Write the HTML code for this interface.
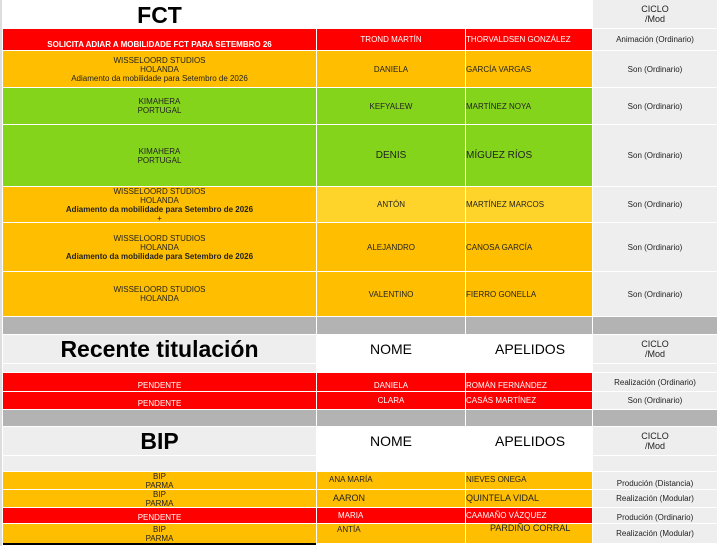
<!DOCTYPE html>
<html><head><meta charset="utf-8"><style>
body{margin:0;width:718px;height:546px;background:#fff;position:relative;overflow:hidden;font-family:"Liberation Sans",sans-serif;}
.c{position:absolute;display:flex;align-items:center;justify-content:center;text-align:center;font-size:8px;line-height:9px;color:#222;box-sizing:border-box;}
.r{background:#ff0000;color:#fff;}
.o{background:#ffbf00;}
.y{background:#ffd42a;}
.g{background:#84d41c;}
.gr{background:#b3b3b3;}
.l{background:#eeeeee;}
.w{background:#fff;}
.L{justify-content:flex-start;}
.b{align-items:flex-end;padding-bottom:1px;}
.big{font-family:"Liberation Sans",sans-serif;font-weight:bold;font-size:23px;line-height:24px;color:#000;}
.h{font-size:14px;color:#000;}
</style></head><body>
<div style="position:absolute;left:0;top:0;width:2px;height:546px;background:#ddd"></div>
<!-- R0 -->
<div class="c w big" style="left:3px;top:0;width:313px;height:29px"><span>FCT</span></div>
<div class="c l" style="left:593px;top:0;width:124px;height:28px;font-size:9px;line-height:10px"><span>CICLO<br>/Mod</span></div>
<!-- R1 -->
<div class="c r b" style="left:3px;top:29px;width:313px;height:21px;font-weight:bold;font-size:8px"><span>SOLICITA ADIAR A MOBILIDADE FCT PARA SETEMBRO 26</span></div>
<div class="c r" style="left:317px;top:29px;width:148px;height:21px">TROND MARTÍN</div>
<div class="c r L" style="left:466px;top:29px;width:126px;height:21px">THORVALDSEN GONZÁLEZ</div>
<div class="c l" style="left:593px;top:29px;width:124px;height:21px">Animación (Ordinario)</div>
<!-- R2 -->
<div class="c o" style="left:3px;top:51px;width:313px;height:36px"><span>WISSELOORD STUDIOS<br>HOLANDA<br>Adiamento da mobilidade para Setembro de 2026</span></div>
<div class="c o" style="left:317px;top:51px;width:148px;height:36px">DANIELA</div>
<div class="c o L" style="left:466px;top:51px;width:126px;height:36px">GARCÍA VARGAS</div>
<div class="c l" style="left:593px;top:51px;width:124px;height:36px">Son (Ordinario)</div>
<!-- R3 -->
<div class="c g" style="left:3px;top:88px;width:313px;height:36px"><span>KIMAHERA<br>PORTUGAL</span></div>
<div class="c g" style="left:317px;top:88px;width:148px;height:36px">KEFYALEW</div>
<div class="c g L" style="left:466px;top:88px;width:126px;height:36px">MARTÍNEZ NOYA</div>
<div class="c l" style="left:593px;top:88px;width:124px;height:36px">Son (Ordinario)</div>
<!-- R4 -->
<div class="c g" style="left:3px;top:125px;width:313px;height:61px"><span>KIMAHERA<br>PORTUGAL</span></div>
<div class="c g" style="left:317px;top:125px;width:148px;height:61px;font-size:10px">DENIS</div>
<div class="c g L" style="left:466px;top:125px;width:126px;height:61px;font-size:10px">MÍGUEZ RÍOS</div>
<div class="c l" style="left:593px;top:125px;width:124px;height:61px">Son (Ordinario)</div>
<!-- R5 -->
<div class="c o" style="left:3px;top:187px;width:313px;height:35px"><span>WISSELOORD STUDIOS<br>HOLANDA<br><b>Adiamento da mobilidade para Setembro de 2026</b><br>+</span></div>
<div class="c y" style="left:317px;top:187px;width:148px;height:35px">ANTÓN</div>
<div class="c y L" style="left:466px;top:187px;width:126px;height:35px">MARTÍNEZ MARCOS</div>
<div class="c l" style="left:593px;top:187px;width:124px;height:35px">Son (Ordinario)</div>
<!-- R6 -->
<div class="c o" style="left:3px;top:223px;width:313px;height:48px"><span>WISSELOORD STUDIOS<br>HOLANDA<br><b>Adiamento da mobilidade para Setembro de 2026</b></span></div>
<div class="c o" style="left:317px;top:223px;width:148px;height:48px">ALEJANDRO</div>
<div class="c o L" style="left:466px;top:223px;width:126px;height:48px">CANOSA GARCÍA</div>
<div class="c l" style="left:593px;top:223px;width:124px;height:48px">Son (Ordinario)</div>
<!-- R7 -->
<div class="c o" style="left:3px;top:272px;width:313px;height:44px"><span>WISSELOORD STUDIOS<br>HOLANDA</span></div>
<div class="c o" style="left:317px;top:272px;width:148px;height:44px">VALENTINO</div>
<div class="c o L" style="left:466px;top:272px;width:126px;height:44px">FIERRO GONELLA</div>
<div class="c l" style="left:593px;top:272px;width:124px;height:44px">Son (Ordinario)</div>
<!-- gray -->
<div class="c gr" style="left:3px;top:317px;width:313px;height:17px"></div>
<div class="c gr" style="left:317px;top:317px;width:148px;height:17px"></div>
<div class="c gr" style="left:466px;top:317px;width:126px;height:17px"></div>
<div class="c gr" style="left:593px;top:317px;width:124px;height:17px"></div>
<!-- Recent header -->
<div class="c l big" style="left:3px;top:335px;width:313px;height:28px"><span>Recente titulación</span></div>
<div class="c l" style="left:3px;top:364px;width:313px;height:8px"></div>
<div class="c h" style="left:317px;top:335px;width:148px;height:28px;justify-content:flex-start;padding-left:53px">NOME</div>
<div class="c h" style="left:466px;top:335px;width:126px;height:28px;justify-content:flex-start;padding-left:29px">APELIDOS</div>
<div class="c l" style="left:593px;top:335px;width:124px;height:28px;font-size:9px;line-height:10px;align-items:flex-start;padding-top:4px"><span>CICLO<br>/Mod</span></div>
<div class="c l" style="left:593px;top:364px;width:124px;height:8px"></div>
<!-- red rows -->
<div class="c r b" style="left:3px;top:373px;width:313px;height:18px">PENDENTE</div>
<div class="c r b" style="left:317px;top:373px;width:148px;height:18px">DANIELA</div>
<div class="c r b L" style="left:466px;top:373px;width:126px;height:18px">ROMÁN FERNÁNDEZ</div>
<div class="c l" style="left:593px;top:373px;width:124px;height:18px">Realización (Ordinario)</div>
<div class="c r b" style="left:3px;top:392px;width:313px;height:17px">PENDENTE</div>
<div class="c r" style="left:317px;top:392px;width:148px;height:17px">CLARA</div>
<div class="c r L" style="left:466px;top:392px;width:126px;height:17px">CASÁS MARTÍNEZ</div>
<div class="c l" style="left:593px;top:392px;width:124px;height:17px">Son (Ordinario)</div>
<!-- gray -->
<div class="c gr" style="left:3px;top:410px;width:313px;height:16px"></div>
<div class="c gr" style="left:317px;top:410px;width:148px;height:16px"></div>
<div class="c gr" style="left:466px;top:410px;width:126px;height:16px"></div>
<div class="c gr" style="left:593px;top:410px;width:124px;height:16px"></div>
<!-- BIP header -->
<div class="c l big" style="left:3px;top:427px;width:313px;height:28px"><span>BIP</span></div>
<div class="c l" style="left:3px;top:456px;width:313px;height:15px"></div>
<div class="c h" style="left:317px;top:427px;width:148px;height:28px;justify-content:flex-start;padding-left:53px">NOME</div>
<div class="c h" style="left:466px;top:427px;width:126px;height:28px;justify-content:flex-start;padding-left:29px">APELIDOS</div>
<div class="c l" style="left:593px;top:427px;width:124px;height:28px;font-size:9px;line-height:10px;align-items:flex-start;padding-top:4px"><span>CICLO<br>/Mod</span></div>
<div class="c l" style="left:593px;top:456px;width:124px;height:15px"></div>
<!-- BIP rows -->
<div class="c o" style="left:3px;top:472px;width:313px;height:17px"><span>BIP<br>PARMA</span></div>
<div class="c o" style="left:317px;top:472px;width:148px;height:17px;justify-content:flex-start;padding-left:12px;align-items:flex-start;padding-top:3px">ANA MARÍA</div>
<div class="c o L" style="left:466px;top:472px;width:126px;height:17px;align-items:flex-start;padding-top:3px">NIEVES ONEGA</div>
<div class="c l b" style="left:593px;top:472px;width:124px;height:17px">Produción (Distancia)</div>
<div class="c o" style="left:3px;top:490px;width:313px;height:17px"><span>BIP<br>PARMA</span></div>
<div class="c o" style="left:317px;top:490px;width:148px;height:17px;font-size:9px;justify-content:flex-start;padding-left:16px">AARON</div>
<div class="c o L" style="left:466px;top:490px;width:126px;height:17px;font-size:9px">QUINTELA VIDAL</div>
<div class="c l" style="left:593px;top:490px;width:124px;height:17px">Realización (Modular)</div>
<div class="c r b" style="left:3px;top:508px;width:313px;height:15px">PENDENTE</div>
<div class="c r" style="left:317px;top:508px;width:148px;height:15px;justify-content:flex-start;padding-left:21px">MARIA</div>
<div class="c r L" style="left:466px;top:508px;width:126px;height:15px">CAAMAÑO VÁZQUEZ</div>
<div class="c l b" style="left:593px;top:508px;width:124px;height:15px">Produción (Ordinario)</div>
<div class="c o" style="left:3px;top:524px;width:313px;height:19px"><span>BIP<br>PARMA</span></div>
<div class="c o" style="left:317px;top:524px;width:148px;height:19px;justify-content:flex-start;padding-left:20px;align-items:flex-start;padding-top:1px">ANTÍA</div>
<div class="c o L" style="left:466px;top:524px;width:126px;height:19px;padding-left:24px;font-size:9px;align-items:flex-start;padding-top:0">PARDIÑO CORRAL</div>
<div class="c l" style="left:593px;top:524px;width:124px;height:19px">Realización (Modular)</div>
<div style="position:absolute;left:3px;top:543px;width:313px;height:2px;background:#000"></div>
</body></html>
